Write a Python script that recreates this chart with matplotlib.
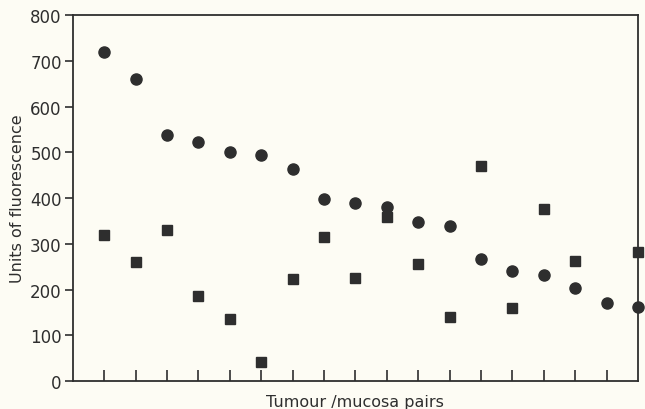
import matplotlib.pyplot as plt

# tumour / mucosa pairs
pairs = list(range(1, 19))
circle_vals = [719, 660, 538, 522, 500, 494, 463, 398, 389, 381,
               348, 339, 267, 240, 232, 203, 171, 163]
square_pairs = [1, 2, 3, 4, 5, 6, 7, 8, 9, 10, 11, 12, 13, 14, 15, 16, 18]
square_vals = [319, 260, 330, 186, 136, 42, 223, 315, 225, 359,
               256, 141, 471, 160, 375, 262, 283]
y_ticks = [0, 100, 200, 300, 400, 500, 600, 700, 800]

bg = '#fdfcf4'
ink = '#2e2e2e'

fig = plt.figure(figsize=(6.45, 4.10), dpi=100, facecolor=bg)
ax = fig.add_axes([0.113, 0.068, 0.876, 0.893], facecolor=bg)

ax.plot(pairs, circle_vals, 'o', color=ink, markersize=8, clip_on=False, zorder=3)
ax.plot(square_pairs, square_vals, 's', color=ink, markersize=7, clip_on=False, zorder=3)

ax.set_xlim(0, 18)
ax.set_ylim(0, 800)
ax.set_xticks(range(1, 18))
ax.set_xticklabels([])
ax.set_yticks(y_ticks)
ax.set_yticklabels([str(v) for v in y_ticks], fontsize=12, color=ink)
ax.tick_params(axis='x', direction='in', length=8, width=1.2, color=ink)
ax.tick_params(axis='y', direction='out', length=6, width=1.2, color=ink, pad=2)

for s in ax.spines.values():
    s.set_linewidth(1.3)
    s.set_color(ink)

ax.set_ylabel('Units of fluorescence', fontsize=11.5, color=ink, labelpad=4)
ax.set_xlabel('Tumour /mucosa pairs', fontsize=11.5, color=ink, labelpad=6)

fig.savefig('out.png', dpi=100, facecolor=bg)
